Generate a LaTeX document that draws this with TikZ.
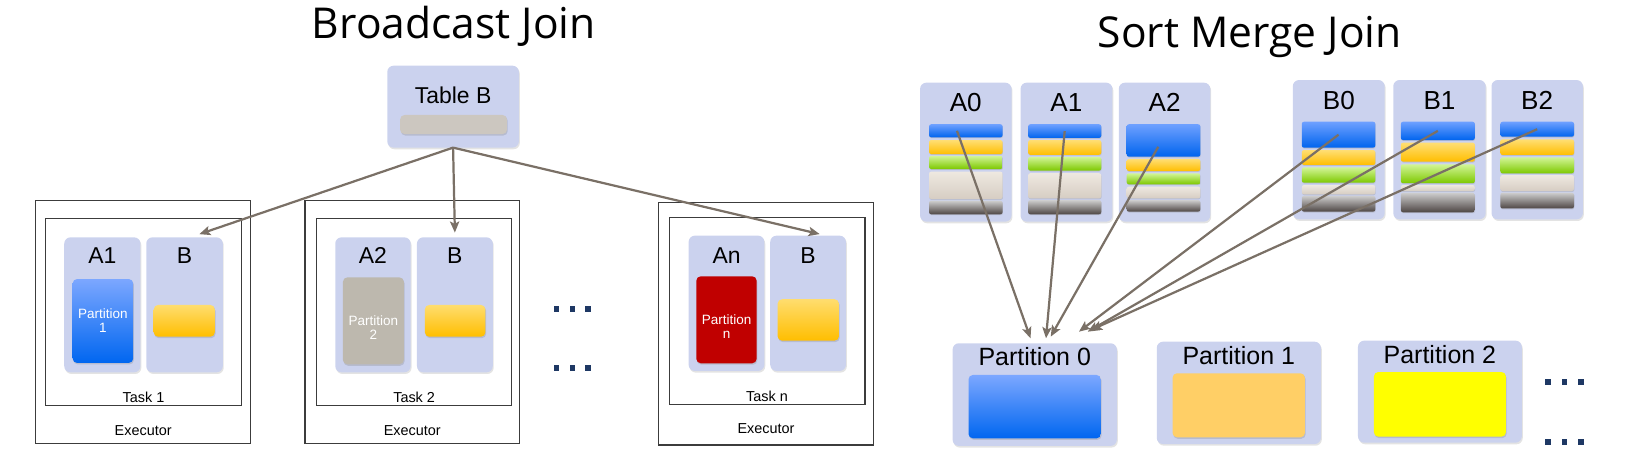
\documentclass[tikz,border=0pt]{standalone}
\usepackage{fontspec}
\setmainfont{Liberation Sans}
\newfontfamily\titlefont{Open Sans}
\usetikzlibrary{arrows.meta,calc,shadows}
\definecolor{lav}{RGB}{203,210,238}
\definecolor{arrc}{RGB}{122,112,102}
\definecolor{dotc}{RGB}{30,56,100}
\definecolor{frame}{RGB}{60,60,60}
\newcommand\bx[6]{\node[#6, minimum width={(#4-#2)*0.02cm}, minimum height={(#5-#3)*0.02cm}] (#1) at ({(#2+#4)/2},{(#3+#5)/2}) {};}
\tikzset{
  base/.style={inner sep=0pt, outer sep=0pt, rectangle},
  exframe/.style={base, draw=frame, line width=0.6pt},
  lavbox/.style={base, fill=lav, rounded corners=3.4pt, drop shadow={shadow xshift=0.5pt, shadow yshift=-0.9pt, opacity=0.22}},
  inrect/.style={base, rounded corners=2.4pt, drop shadow={shadow xshift=0.4pt, shadow yshift=-0.8pt, opacity=0.28}},
  bluegrad/.style={inrect, top color={rgb,255:red,124;green,167;blue,255}, bottom color={rgb,255:red,0;green,102;blue,240}},
  yelgrad/.style={inrect, top color={rgb,255:red,255;green,221;blue,110}, bottom color={rgb,255:red,255;green,190;blue,0}},
  graypart/.style={inrect, fill={rgb,255:red,189;green,184;blue,174}},
  redpart/.style={inrect, fill={rgb,255:red,192;green,0;blue,0}},
  tbar/.style={inrect, fill={rgb,255:red,204;green,199;blue,192}},
  stripe/.style={base, rounded corners=1.2pt, drop shadow={shadow xshift=0.2pt, shadow yshift=-0.5pt, opacity=0.25}},
  sblue/.style={stripe, top color={rgb,255:red,110;green,160;blue,255}, bottom color={rgb,255:red,0;green,100;blue,238}},
  sorange/.style={stripe, top color={rgb,255:red,255;green,222;blue,115}, bottom color={rgb,255:red,255;green,190;blue,0}},
  sgreen/.style={stripe, top color={rgb,255:red,210;green,245;blue,150}, bottom color={rgb,255:red,125;green,200;blue,0}},
  sbeige/.style={stripe, top color={rgb,255:red,238;green,232;blue,224}, bottom color={rgb,255:red,214;green,205;blue,195}},
  sgray/.style={stripe, top color={rgb,255:red,205;green,205;blue,205}, bottom color={rgb,255:red,78;green,70;blue,68}},
  p1fill/.style={inrect, fill={rgb,255:red,255;green,207;blue,102}},
  p2fill/.style={inrect, fill={rgb,255:red,255;green,255;blue,0}},
  dotsq/.style={base, fill=dotc, minimum width=5.5*0.02cm, minimum height=5.5*0.02cm},
  arr/.style={draw=arrc, line width=1.2pt, -{Stealth[length=6pt,width=5pt,inset=1.3pt]}},
  ttl/.style={font=\titlefont\fontsize{23}{26}\selectfont, anchor=base, inner sep=0pt},
  lab/.style={font=\fontsize{12.4}{14}\selectfont, anchor=base, inner sep=0pt},
  slab/.style={font=\fontsize{14.1}{16}\selectfont, anchor=base, inner sep=0pt},
  plab/.style={font=\fontsize{13.5}{15}\selectfont, anchor=base, inner sep=0pt},
  small/.style={font=\fontsize{7.8}{9}\selectfont, anchor=base, inner sep=0pt},
  ptext/.style={font=\fontsize{7.3}{7.4}\selectfont, align=center, text=white, inner sep=0pt},
}
\begin{document}
\begin{tikzpicture}[x=0.02cm, y=-0.02cm]
\useasboundingbox (0,0) rectangle (1568,443);
% ---------------- Broadcast Join ----------------
\node[ttl] (t-bj) at (431,36.4) {Broadcast Join};
\bx{tb}{367.8}{62.4}{492.8}{140.2}{lavbox}
\bx{tbb}{380}{109.2}{481.5}{127.3}{tbar}
\node[lab] (l-tb) at (430.3,98.1) {Table B};
% Executor 1
\bx{e1}{34}{190}{238}{421}{exframe}
\bx{t1}{43.6}{207.4}{229}{385}{exframe}
\bx{a1}{61}{225.4}{133.4}{353.6}{lavbox}
\bx{b1}{138.9}{225.4}{211.6}{353.6}{lavbox}
\bx{p1}{69}{265}{126.5}{344.7}{bluegrad}
\bx{y1}{146}{289.6}{204}{319.8}{yelgrad}
\node[lab] (l-a1) at (97.2,250.5) {A1};
\node[lab] (l-b1) at (175.3,250.5) {B};
\node[ptext] (l-p1) at (97.8,304.4) {Partition\\1};
\node[small] (l-t1) at (136.3,382) {Task 1};
\node[small] (l-e1) at (136,413.5) {Executor};
% Executor 2
\bx{e2}{289.7}{190}{493.6}{421}{exframe}
\bx{t2}{300.6}{207.4}{486}{385}{exframe}
\bx{a2}{318.4}{225.4}{390}{353.6}{lavbox}
\bx{b2}{396}{225.4}{468}{353.6}{lavbox}
\bx{p2}{325.7}{263.4}{383.5}{346}{graypart}
\bx{y2}{403.5}{289.6}{461}{319.8}{yelgrad}
\node[lab] (l-a2) at (354.2,250.5) {A2};
\node[lab] (l-b2) at (432,250.5) {B};
\node[ptext] (l-p2) at (354.6,311) {Partition\\2};
\node[small] (l-t2) at (393.3,382) {Task 2};
\node[small] (l-e2) at (391.6,413.5) {Executor};
% dots
\foreach \i/\xx in {1/528.5,2/543.8,3/558.7}{
  \node[dotsq] (bd-a\i) at (\xx,293.8) {};
  \node[dotsq] (bd-b\i) at (\xx,349.8) {};
}
% Executor 3
\bx{e3}{625.5}{192.5}{829.4}{422.6}{exframe}
\bx{t3}{635.6}{206.4}{821.5}{384}{exframe}
\bx{a3}{654}{223.8}{725.9}{352.3}{lavbox}
\bx{b3}{731.5}{223.8}{803.4}{352.3}{lavbox}
\bx{pn}{661.3}{262.4}{718.6}{345}{redpart}
\bx{y3}{738.5}{284.2}{796.8}{323.5}{yelgrad}
\node[lab] (l-a3) at (690,250) {An};
\node[lab] (l-b3) at (767.5,250) {B};
\node[ptext] (l-pn) at (690,310) {Partition\\n};
\node[small] (l-t3) at (728.5,381.5) {Task n};
\node[small] (l-e3) at (727.5,411.5) {Executor};
% arrows
\draw[arr] (tb.south) -- ($(b1.north)+(14,-3)$);
\draw[arr] (tb.south) -- ($(b2.north)+(0,-4.5)$);
\draw[arr] (tb.south) -- ($(b3.north)+(11,-1.5)$);
% ---------------- Sort Merge Join ----------------
\node[ttl] (t-smj) at (1187,45.5) {Sort Merge Join};
\bx{sa0}{873.8}{78.5}{960.7}{210.5}{lavbox}
\bx{sa1}{969.2}{78.5}{1056.5}{210.5}{lavbox}
\bx{sa2}{1062.5}{78.5}{1149.4}{210.5}{lavbox}
\bx{sb0}{1227.8}{76}{1315.1}{208.3}{lavbox}
\bx{sb1}{1323.2}{76}{1411}{208.3}{lavbox}
\bx{sb2}{1416.5}{76}{1503.3}{208.3}{lavbox}
\node[slab] (l-sa0) at (917.2,106) {A0};
\node[slab] (l-sa1) at (1012.8,106) {A1};
\node[slab] (l-sa2) at (1106,106) {A2};
\node[slab] (l-sb0) at (1271.5,103.8) {B0};
\node[slab] (l-sb1) at (1367.1,103.8) {B1};
\node[slab] (l-sb2) at (1459.9,103.8) {B2};
% A0 stripes
\bx{a0s1}{882.3}{118}{952.2}{130.4}{sblue}
\bx{a0s2}{882.3}{133}{952.2}{146.3}{sorange}
\bx{a0s3}{882.3}{148}{952.2}{160.5}{sgreen}
\bx{a0s4}{882.3}{163}{952.2}{189}{sbeige}
\bx{a0s5}{882.3}{190.6}{952.2}{203.5}{sgray}
% A1 stripes
\bx{a1s1}{976.4}{118}{1045.9}{131}{sblue}
\bx{a1s2}{976.4}{133}{1045.9}{147}{sorange}
\bx{a1s3}{976.4}{149}{1045.9}{162}{sgreen}
\bx{a1s4}{976.4}{164.5}{1045.9}{188.4}{sbeige}
\bx{a1s5}{976.4}{190}{1045.9}{203.5}{sgray}
% A2 stripes
\bx{a2s1}{1070}{118}{1140}{148.8}{sblue}
\bx{a2s2}{1070}{151}{1140}{162.4}{sorange}
\bx{a2s3}{1070}{164.6}{1140}{175}{sgreen}
\bx{a2s4}{1070}{177.3}{1140}{188.4}{sbeige}
\bx{a2s5}{1070}{190}{1140}{201}{sgray}
% B0 stripes
\bx{b0s1}{1236.3}{115.6}{1306.2}{140.2}{sblue}
\bx{b0s2}{1236.3}{142.5}{1306.2}{156.7}{sorange}
\bx{b0s3}{1236.3}{159}{1306.2}{173.5}{sgreen}
\bx{b0s4}{1236.3}{175.7}{1306.2}{184.6}{sbeige}
\bx{b0s5}{1236.3}{186}{1306.2}{201}{sgray}
% B1 stripes
\bx{b1s1}{1330.4}{115.6}{1400.7}{133}{sblue}
\bx{b1s2}{1330.4}{135.5}{1400.7}{153.5}{sorange}
\bx{b1s3}{1330.4}{156}{1400.7}{174}{sgreen}
\bx{b1s4}{1330.4}{175.7}{1400.7}{181.4}{sbeige}
\bx{b1s5}{1330.4}{183}{1400.7}{201.6}{sgray}
% B2 stripes
\bx{b2s1}{1424.9}{115.6}{1494.9}{129.8}{sblue}
\bx{b2s2}{1424.9}{132.3}{1494.9}{147.2}{sorange}
\bx{b2s3}{1424.9}{149.4}{1494.9}{164.6}{sgreen}
\bx{b2s4}{1424.9}{166.2}{1494.9}{181.4}{sbeige}
\bx{b2s5}{1424.9}{183}{1494.9}{198}{sgray}
% partitions
\bx{pp0}{904.7}{326}{1060.7}{423.5}{lavbox}
\bx{pi0}{919.8}{356.1}{1045.6}{416.3}{bluegrad}
\bx{pp1}{1098.6}{324.5}{1254.5}{421.7}{lavbox}
\bx{pi1}{1113.6}{354.5}{1239.3}{415.3}{p1fill}
\bx{pp2}{1289.7}{323.5}{1445.3}{420.4}{lavbox}
\bx{pi2}{1304.8}{353.3}{1430.2}{414.7}{p2fill}
\node[plab] (l-pp0) at (982.7,347.3) {Partition 0};
\node[plab] (l-pp1) at (1176.5,346) {Partition 1};
\node[plab] (l-pp2) at (1367.5,345) {Partition 2};
\foreach \i/\xx in {1/1469.8,2/1485.8,3/1501.2}{
  \node[dotsq] (sd-a\i) at (\xx,363) {};
  \node[dotsq] (sd-b\i) at (\xx,419.5) {};
}
% arrows
\draw[arr] ($(a0s1.center)+(-8.4,0)$) -- ($(pp0.north)+(-4,-4.7)$);
\draw[arr] (a1s1.center) -- ($(pp0.north)+(10.7,-4.7)$);
\draw[arr] ($(a2s1.center)+(-5,6)$) -- ($(pp0.north)+(15.2,-6.3)$);
\draw[arr] (b0s1.center) -- ($(pp0.north)+(42,-11)$);
\draw[arr] (b1s1.center) -- ($(pp0.north)+(50.3,-11)$);
\draw[arr] (b2s1.center) -- ($(pp0.north)+(53.3,-12.6)$);
\end{tikzpicture}
\end{document}
